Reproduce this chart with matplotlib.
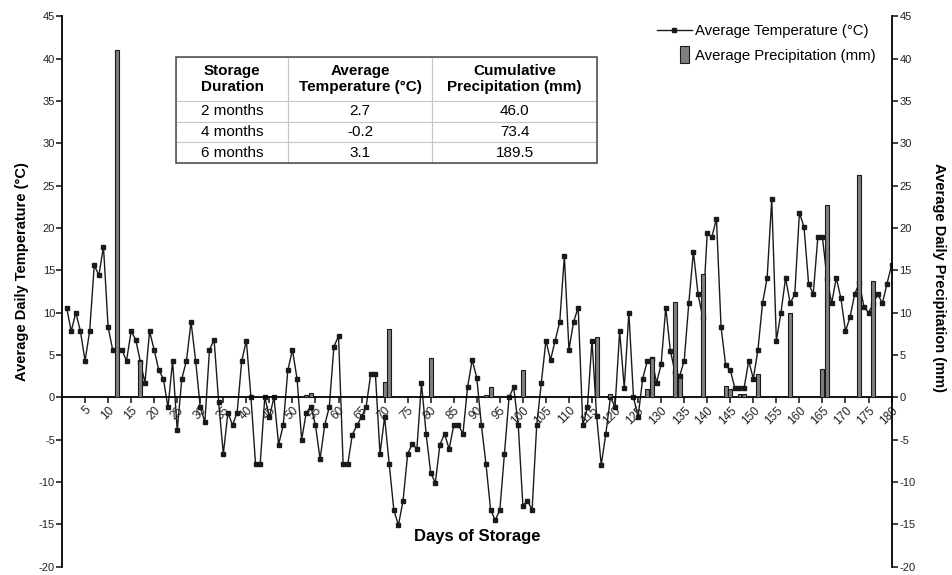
import matplotlib
matplotlib.use('Agg')
import matplotlib.pyplot as plt
from matplotlib.patches import Rectangle
from matplotlib.legend_handler import HandlerPatch
import numpy as np

plt.rcParams['font.family'] = ['Liberation Sans', 'DejaVu Sans']
plt.rcParams['axes.unicode_minus'] = False

# daily mean temperature, days 1..180
temperature = [
    10.6, 7.8, 10.0, 7.8, 4.3, 7.8, 15.6, 14.4, 17.8, 8.3,
    5.6, 5.6, 5.6, 4.3, 7.8, 6.8, 4.2, 1.7, 7.8, 5.6,
    3.2, 2.2, -1.2, 4.3, -3.9, 2.2, 4.3, 8.9, 4.3, -1.2,
    -2.9, 5.6, 6.8, -0.6, -6.7, -1.8, -3.3, -1.8, 4.3, 6.7,
    0.0, -7.9, -7.9, 0.0, -2.3, 0.0, -5.6, -3.3, 3.2, 5.6,
    2.2, -5.0, -1.8, -1.1, -3.3, -7.3, -3.3, -1.1, 6.0, 7.2,
    -7.9, -7.9, -4.4, -3.3, -2.3, -1.1, 2.8, 2.8, -6.7, -2.3,
    -7.9, -13.3, -15.1, -12.2, -6.7, -5.5, -6.1, 1.7, -4.3, -8.9,
    -10.1, -5.6, -4.3, -6.1, -3.3, -3.3, -4.3, 1.2, 4.4, 2.3,
    -3.3, -7.9, -13.3, -14.5, -13.3, -6.7, 0.0, 1.2, -3.3, -12.8,
    -12.2, -13.3, -3.3, 1.7, 6.7, 4.4, 6.7, 8.9, 16.7, 5.6,
    8.9, 10.6, -3.3, -1.2, 6.7, -2.2, -8.0, -4.3, 0.0, -1.1,
    7.8, 1.1, 10.0, 0.0, -2.3, 2.2, 4.3, 4.5, 1.7, 3.9,
    10.6, 5.5, 3.0, 2.5, 4.3, 11.1, 17.2, 12.2, 9.5, 19.4,
    18.9, 21.1, 8.3, 3.8, 3.2, 1.1, 1.1, 1.1, 4.3, 2.2,
    5.6, 11.1, 14.1, 23.4, 6.7, 10.0, 14.1, 11.1, 12.2, 21.8,
    20.1, 13.4, 12.2, 18.9, 18.9, 14.0, 11.1, 14.1, 11.7, 7.8,
    9.5, 12.2, 13.5, 10.7, 10.0, 11.0, 12.2, 11.1, 13.4, 15.6,
]
days = np.arange(1, len(temperature) + 1)

# days with rain and amount (mm)
rain_days = [12, 17, 53, 54, 70, 71, 80, 81, 92, 93, 95, 100, 101, 116, 119,
             127, 128, 133, 134, 139, 144, 145, 147, 148, 149, 151, 158,
             165, 166, 173, 176]
rain_mm = [41.0, 4.3, 0.3, 0.5, 1.8, 8.1, 4.7, 0.2, 0.3, 1.2, 0.1, 3.2, 0.2,
           7.1, 0.4, 1.0, 4.7, 11.2, 2.3, 14.6, 1.3, 1.0, 0.4, 0.4, 0.2, 2.8,
           10.0, 3.3, 22.7, 26.2, 13.7]

# summary table
table_cols = ['Storage\nDuration', 'Average\nTemperature (°C)',
              'Cumulative\nPrecipitation (mm)']
durations = ['2 months', '4 months', '6 months']
avg_temp = ['2.7', '-0.2', '3.1']
cum_precip = ['46.0', '73.4', '189.5']

fig = plt.figure(figsize=(9.53, 5.75), dpi=100)
ax = fig.add_axes([62 / 953, 1 - 566.7 / 575, 830.5 / 953, 550.5 / 575])
ax2 = ax.twinx()

line, = ax.plot(days, temperature, '-s', color='#1a1a1a', lw=1.0,
                markersize=3.2, label='Average Temperature (°C)')
bars = ax2.bar(rain_days, rain_mm, width=0.85, color='#7f7f7f',
               edgecolor='#1a1a1a', lw=0.8, label='Average Precipitation (mm)')

for a in (ax, ax2):
    a.set_ylim(-20, 45)
    a.set_yticks(np.arange(-20, 46, 5))
    a.spines['top'].set_visible(False)
    a.tick_params(axis='y', direction='out', length=4, width=1.2,
                  labelsize=8, pad=1, colors='#222222')
ax.set_xlim(0, 180.2)
ax.spines['bottom'].set_position(('data', 0))
ax2.spines['bottom'].set_visible(False)
for s in ('left', 'bottom'):
    ax.spines[s].set_linewidth(1.3)
ax2.spines['right'].set_linewidth(1.3)
ax.spines['right'].set_visible(False)
ax2.spines['left'].set_visible(False)

ax.set_xticks(np.arange(5, 181, 5))
ax.tick_params(axis='x', direction='out', length=4, width=1.2, labelsize=8.5,
               pad=1, colors='#222222')
for lab in ax.get_xticklabels():
    lab.set_rotation(45)
    lab.set_ha('right')
    lab.set_va('top')
    lab.set_rotation_mode('anchor')

ax.text(0.5, 0.054, 'Days of Storage', transform=ax.transAxes, ha='center',
        va='center', fontsize=12, fontweight='bold')
fig.text(22 / 953, 1 - 272 / 575, 'Average Daily Temperature (°C)',
         rotation=90, ha='center', va='center', fontsize=10.5, fontweight='bold')
fig.text(939 / 953, 1 - 278 / 575, 'Average Daily Precipitation (mm)',
         rotation=270, ha='center', va='center', fontsize=10.5, fontweight='bold')


def narrow_bar(legend, orig_handle, xdescent, ydescent, width, height, fontsize):
    return Rectangle((width - 8, -ydescent - 2), 6, height + 5)


leg = ax2.legend(handles=[line, bars[0]],
                 labels=['Average Temperature (°C)', 'Average Precipitation (mm)'],
                 loc='upper left', bbox_to_anchor=(644 / 953, 1 - 11 / 575),
                 bbox_transform=fig.transFigure, frameon=False, fontsize=10.7,
                 handlelength=2.3, handletextpad=0.25, labelspacing=0.72,
                 handler_map={bars[0]: HandlerPatch(patch_func=narrow_bar)})

# table
rows = [list(r) for r in zip(durations, avg_temp, cum_precip)]
tab = ax2.table(cellText=rows, colLabels=table_cols, cellLoc='center',
                colWidths=[0.266, 0.342, 0.392],
                bbox=[0.1373, 0.7333, 0.507, 0.1926])
tab.auto_set_font_size(False)
for (r, c), cell in tab.get_celld().items():
    cell.set_edgecolor('#c8c8c8')
    cell.set_linewidth(0.8)
    cell.set_height(0.0798 if r == 0 else 0.0376)
    cell.get_text().set_fontsize(11)
    if r == 0:
        cell.get_text().set_fontweight('bold')
ax2.add_patch(Rectangle((0.1373, 0.7333), 0.507, 0.1926, transform=ax2.transAxes,
                        fill=False, edgecolor='#555555', lw=1.2, zorder=10,
                        clip_on=False))

fig.savefig('out.png', dpi=100)
